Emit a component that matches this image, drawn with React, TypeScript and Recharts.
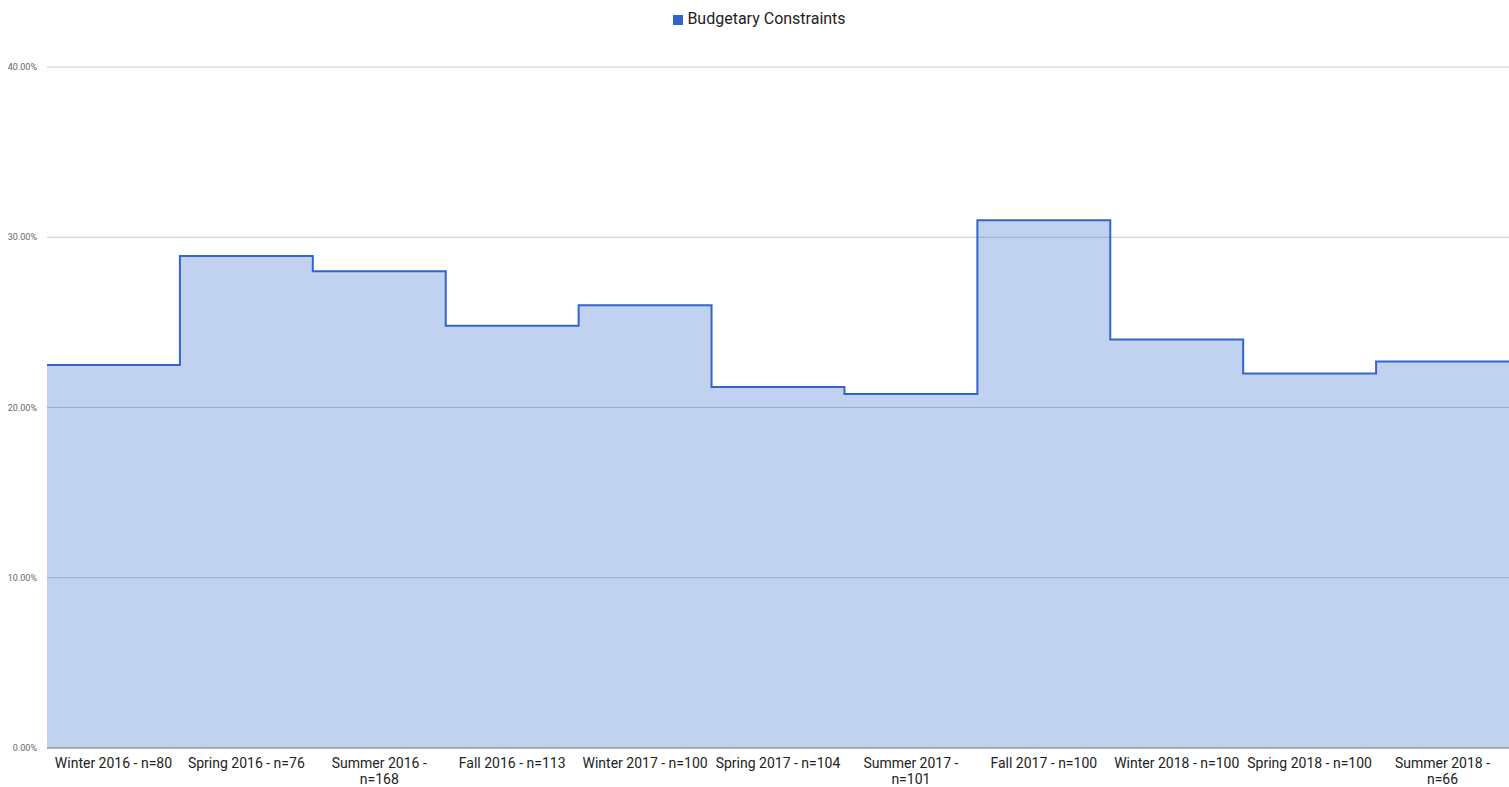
import { Area, AreaChart, CartesianGrid, Legend, XAxis, YAxis } from 'recharts';

const categories = [
    'Winter 2016 - n=80',
    'Spring 2016 - n=76',
    'Summer 2016 - n=168',
    'Fall 2016 - n=113',
    'Winter 2017 - n=100',
    'Spring 2017 - n=104',
    'Summer 2017 - n=101',
    'Fall 2017 - n=100',
    'Winter 2018 - n=100',
    'Spring 2018 - n=100',
    'Summer 2018 - n=66',
];

const budgetary = [0.225, 0.289, 0.28, 0.248, 0.26, 0.212, 0.208, 0.31, 0.24, 0.22, 0.227];

const yTicks = [0, 0.1, 0.2, 0.3, 0.4];

// each step spans one category band, so add a closing point at the right edge
const data = [
    ...budgetary.map((v, i) => ({ x: i, value: v })),
    { x: budgetary.length, value: budgetary[budgetary.length - 1] },
];
const xTicks = categories.map((_, i) => i + 0.5);

const TICK_FONT = '14px Roboto';
let ctx: CanvasRenderingContext2D | null = null;
const measure = (s: string) => {
    if (!ctx) ctx = document.createElement('canvas').getContext('2d');
    if (!ctx) return s.length * 7;
    ctx.font = TICK_FONT;
    return ctx.measureText(s).width;
};

// greedy word wrap
const wrap = (label: string, maxWidth: number) => {
    const words = label.split(' ');
    const lines: string[] = [];
    let cur = '';
    for (const w of words) {
        const next = cur ? cur + ' ' + w : w;
        if (cur && measure(next) > maxWidth) {
            lines.push(cur);
            cur = w;
        } else {
            cur = next;
        }
    }
    if (cur) lines.push(cur);
    return lines;
};

const CategoryTick = (props: any) => {
    const { x, y, payload } = props;
    const label = categories[Math.floor(payload.value)];
    const lines = wrap(label, 127);
    return (
        <text x={x} y={y - 1} textAnchor='middle' fontSize={14} fill='#222' fontFamily='Roboto'>
            {lines.map((l, i) => (
                <tspan key={i} x={x} dy={i === 0 ? '0.9em' : 16}>
                    {l}
                </tspan>
            ))}
        </text>
    );
};

export default function App() {
    return (
        <div style={{ position: 'absolute', left: 0, top: 0, fontFamily: 'Roboto' }}>
            <style>{'body { margin: 0; }'}</style>
            <AreaChart
                width={1509}
                height={787}
                data={data}
                margin={{ top: 48, right: 0, left: 0, bottom: 0 }}
                style={{ fontFamily: 'Roboto' }}
            >
                <CartesianGrid vertical={false} stroke='#ccc' />
                <XAxis
                    dataKey='x'
                    type='number'
                    domain={[0, categories.length]}
                    ticks={xTicks}
                    tick={<CategoryTick />}
                    tickLine={false}
                    stroke='#888'
                    height={39}
                    interval={0}
                />
                <YAxis
                    width={47}
                    domain={[0, 0.4]}
                    ticks={yTicks}
                    tickFormatter={(v: number) => `${(v * 100).toFixed(2)}%`}
                    axisLine={false}
                    tickLine={false}
                    tick={{ fontSize: 9, fill: '#666' }}
                    tickMargin={4}
                />
                <Legend
                    verticalAlign='top'
                    align='center'
                    iconType='square'
                    iconSize={10}
                    wrapperStyle={{ top: 9, left: 10 }}
                    formatter={(v: string) => (
                        <span style={{ color: '#222', fontSize: 16 }}>{v}</span>
                    )}
                />
                <Area
                    type='stepAfter'
                    dataKey='value'
                    name='Budgetary Constraints'
                    stroke='#3366CC'
                    strokeWidth={2}
                    fill='#3366CC'
                    fillOpacity={0.3}
                    dot={false}
                    activeDot={false}
                    isAnimationActive={false}
                />
            </AreaChart>
        </div>
    );
}
